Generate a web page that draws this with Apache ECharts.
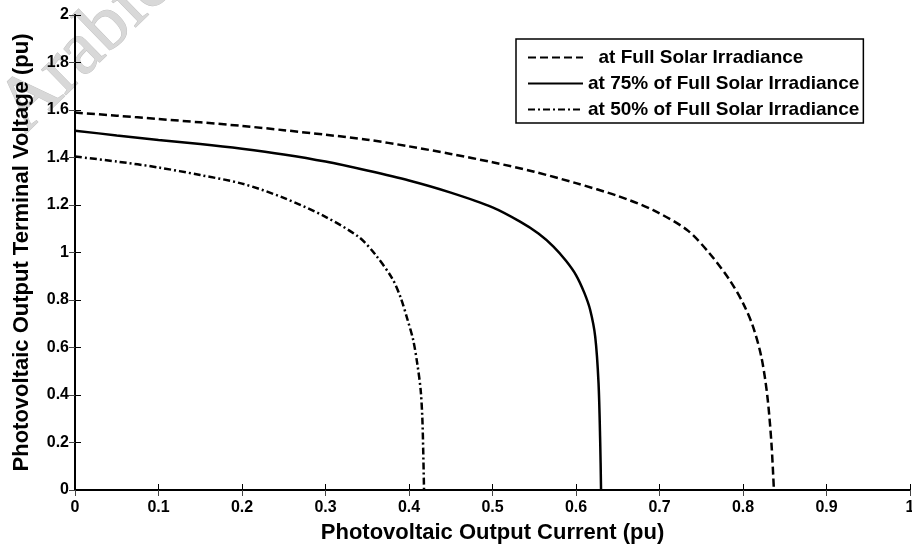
<!DOCTYPE html>
<html><head><meta charset="utf-8">
<script src="https://cdn.jsdelivr.net/npm/echarts@6/dist/echarts.min.js"></script>
<style>html,body{margin:0;padding:0;background:#fff}#c{width:912px;height:544px}</style>
</head><body><div id="c"></div>
<script>
// Series names (legend)
const seriesNames = ['  at Full Solar Irradiance', 'at 75% of Full Solar Irradiance', 'at 50% of Full Solar Irradiance'];

// Full solar irradiance (dashed): current (pu) and voltage (pu)
const fullI = [0, 0.05, 0.1, 0.15, 0.2, 0.25, 0.3, 0.35, 0.4, 0.45, 0.5, 0.55, 0.6, 0.65, 0.692, 0.733, 0.76, 0.784, 0.8, 0.812, 0.822, 0.829, 0.834, 0.837];
const fullV = [1.589, 1.576, 1.562, 1.548, 1.533, 1.515, 1.496, 1.475, 1.447, 1.415, 1.38, 1.34, 1.292, 1.238, 1.179, 1.095, 0.996, 0.884, 0.787, 0.688, 0.56, 0.4, 0.2, 0];

// 75% of full solar irradiance (solid)
const i75 = [0, 0.05, 0.1, 0.15, 0.2, 0.25, 0.3, 0.35, 0.4, 0.45, 0.5, 0.533, 0.555, 0.573, 0.588, 0.6, 0.61, 0.617, 0.623, 0.627, 0.629, 0.63];
const v75 = [1.513, 1.493, 1.474, 1.457, 1.437, 1.413, 1.383, 1.345, 1.303, 1.252, 1.19, 1.13, 1.08, 1.025, 0.965, 0.905, 0.83, 0.758, 0.646, 0.449, 0.2, 0];

// 50% of full solar irradiance (dash-dot)
const i50 = [0, 0.05, 0.1, 0.15, 0.2, 0.25, 0.3, 0.34, 0.36, 0.38, 0.39, 0.398, 0.405, 0.41, 0.414, 0.416, 0.417, 0.418];
const v50 = [1.404, 1.383, 1.358, 1.326, 1.29, 1.23, 1.15, 1.065, 0.99, 0.89, 0.81, 0.72, 0.632, 0.53, 0.42, 0.3, 0.17, 0];

const xTitle = 'Photovoltaic Output Current (pu)';
const yTitle = 'Photovoltaic Output Terminal Voltage (pu)';
const watermark = 'Arabic';

const FONT = 'Arial, "Liberation Sans", Helvetica, sans-serif';
const zip = (a, b) => a.map((v, k) => [v, b[k]]);

const chart = echarts.init(document.getElementById('c'), null, {renderer: 'canvas'});

const axisCommon = {
  type: 'value',
  splitLine: {show: false},
  axisTick: {show: true, inside: true, length: 6, lineStyle: {color: '#000', width: 1}},
};

chart.setOption({
  animation: false,
  backgroundColor: '#fff',
  grid: {left: 75, right: 2, top: 15, bottom: 54, containLabel: false, outerBoundsMode: 'none'},
  graphic: [{
    type: 'text', x: 38, y: 147, rotation: 0.77, z: 0, silent: true,
    style: {text: watermark, font: '76px "Liberation Serif", "DejaVu Serif", serif', fill: '#d8d8d8', stroke: '#c2c2c2', lineWidth: 1, verticalAlign: 'bottom', align: 'left'}
  }],
  legend: {
    data: seriesNames,
    orient: 'vertical',
    left: 516, top: 39,
    itemWidth: 55, itemHeight: 14, itemGap: 7,
    padding: [9, 4, 4, 11],
    backgroundColor: '#fff',
    borderColor: '#000', borderWidth: 1.5,
    itemStyle: {opacity: 0},
    textStyle: {fontFamily: FONT, fontSize: 19, fontWeight: 'bold', color: '#000', lineHeight: 18}
  },
  xAxis: [
    Object.assign({}, axisCommon, {
      min: 0, max: 1, interval: 0.1, position: 'bottom',
      axisLine: {show: true, lineStyle: {color: '#000', width: 2}},
      axisLabel: {fontFamily: FONT, fontSize: 16, fontWeight: 'bold', color: '#000', margin: 10},
      name: xTitle, nameLocation: 'middle', nameGap: 32,
      nameTextStyle: {fontFamily: FONT, fontSize: 22, fontWeight: 'bold', color: '#000'}
    }),
    Object.assign({}, axisCommon, {
      min: 0, max: 1, interval: 0.1, position: 'top',
      axisLine: {show: true, lineStyle: {color: '#000', width: 1.5}},
      axisTick: {show: true, inside: true, length: 6, lineStyle: {color: '#444', width: 1}},
      axisLabel: {show: false}
    })
  ],
  yAxis: [
    Object.assign({}, axisCommon, {
      min: 0, max: 2, interval: 0.2, position: 'left',
      axisLine: {show: true, lineStyle: {color: '#000', width: 2}},
      axisLabel: {fontFamily: FONT, fontSize: 16, fontWeight: 'bold', color: '#000', margin: 6},
      name: yTitle, nameLocation: 'middle', nameGap: 42,
      nameTextStyle: {fontFamily: FONT, fontSize: 22, fontWeight: 'bold', color: '#000'}
    }),
    Object.assign({}, axisCommon, {
      min: 0, max: 2, interval: 0.2, position: 'right',
      axisLine: {show: true, lineStyle: {color: '#000', width: 1.5}},
      axisTick: {show: true, inside: true, length: 6, lineStyle: {color: '#444', width: 1}},
      axisLabel: {show: false}
    })
  ],
  series: [
    {name: seriesNames[0], type: 'line', data: zip(fullI, fullV), symbol: 'none', smooth: 0.3, color: '#000',
     lineStyle: {color: '#000', width: 2.5, type: [8, 4]}},
    {name: seriesNames[1], type: 'line', data: zip(i75, v75), symbol: 'none', smooth: 0.3, color: '#000',
     lineStyle: {color: '#000', width: 2.5, type: 'solid'}},
    {name: seriesNames[2], type: 'line', data: zip(i50, v50), symbol: 'none', smooth: 0.3, color: '#000',
     lineStyle: {color: '#000', width: 2.5, type: [7, 3, 2, 3]}}
  ]
});
</script></body></html>
